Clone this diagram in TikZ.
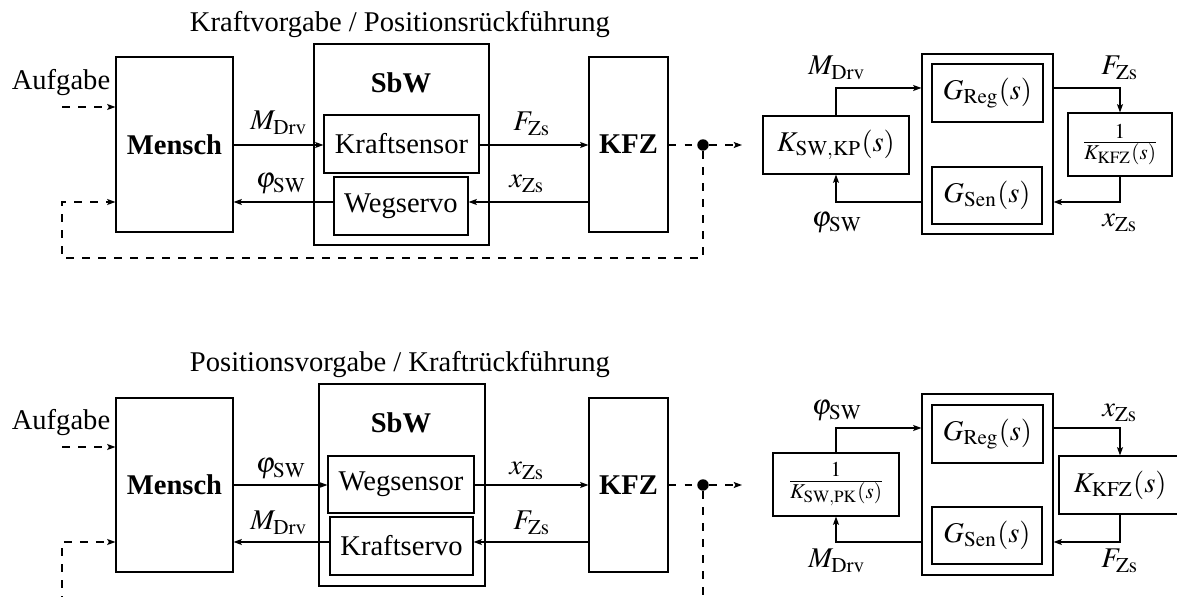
\documentclass[tikz,border=0pt]{standalone}
\usepackage{mathptmx}
\usepackage{fontspec}
\setmainfont{Liberation Serif}
\usetikzlibrary{arrows.meta}

\begin{document}
\begin{tikzpicture}[x=0.35pt,y=-0.35pt,
  >={Stealth[length=2.9pt,width=2.1pt,inset=0.6pt]},
  blk/.style 2 args={draw,inner sep=0pt,minimum width=#1*0.35pt,minimum height=#2*0.35pt},
  sig/.style={->},
  fbline/.style={dash pattern=on 2.7pt off 2.9pt},
  fb/.style={->,fbline},
  lbl/.style={anchor=base,inner sep=0pt},
  jdot/.style={circle,fill,inner sep=0pt,minimum size=4pt}]
\useasboundingbox (0,0) rectangle (1177,597);
\clip (0,0) rectangle (1177,597);

% ---------- Kraftvorgabe / Positionsrueckfuehrung ----------
\node[lbl] (t1) at (400,32) {Kraftvorgabe / Positionsrückführung};
\node[blk={117}{175}] (m1) at (174.5,144.5) {\textbf{Mensch}};
\node[blk={175}{201}] (s1) at (401.5,144.5) {};
\node[lbl] (s1t) at (401,93) {\textbf{SbW}};
\node[blk={155}{58}] (ks1) at (401.5,144) {Kraftsensor};
\node[blk={134}{58}] (ws1) at (401,206) {Wegservo};
\node[blk={79}{175}] (k1) at (628.5,144.5) {\textbf{KFZ}};
\node[jdot] (d1) at (703,145) {};
\coordinate (o1) at (742,145);
\node[lbl] (a1) at (61,90) {Aufgabe};
\coordinate (a1s) at (62,107);
\coordinate (r1a) at (62,258);
\coordinate (r1b) at (62,202);

\draw[sig] (m1.east |- 0,145) -- (ks1.west |- 0,145);
\draw[sig] (ks1.east |- 0,145) -- (k1.west |- 0,145);
\draw[sig] (k1.west |- 0,202) -- (ws1.east |- 0,202);
\draw[sig] (ws1.west |- 0,202) -- (m1.east |- 0,202);
\draw[fbline] (k1.east |- d1) -- (d1);
\draw[fb] (d1) -- (o1);
\draw[fb] (d1) -- (d1 |- r1a) -- (r1a) -- (r1b) -- (m1.west |- r1b);
\draw[fb] (a1s) -- (a1s -| m1.west);

\node[lbl] at (279,130) {$M_{\mathrm{Drv}}$};
\node[lbl] at (532,131) {$F_{\mathrm{Zs}}$};
\node[lbl] at (281,188) {$\varphi_{\mathrm{SW}}$};
\node[lbl] at (527,188) {$x_{\mathrm{Zs}}$};

% control loop, upper
\node[blk={146}{58}] (kp1) at (836,145) {$K_{\mathrm{SW,KP}}(s)$};
\node[blk={131}{180}] (c1) at (987.5,144) {};
\node[blk={111}{58}] (gr1) at (987.5,93) {$G_{\mathrm{Reg}}(s)$};
\node[blk={110}{57}] (gs1) at (987,195.5) {$G_{\mathrm{Sen}}(s)$};
\node[blk={104}{63}] (kf1) at (1120,144.5) {$\frac{1}{K_{\mathrm{KFZ}}(s)}$};

\draw[sig] (kp1.north) |- (c1.west |- 0,88);
\draw[sig] (c1.east |- 0,88) -| (kf1.north);
\draw[sig] (kf1.south) |- (c1.east |- 0,202);
\draw[sig] (c1.west |- 0,202) -| (kp1.south);

\node[lbl] at (837,75) {$M_{\mathrm{Drv}}$};
\node[lbl] at (1120,75) {$F_{\mathrm{Zs}}$};
\node[lbl] at (837,227) {$\varphi_{\mathrm{SW}}$};
\node[lbl] at (1120,227) {$x_{\mathrm{Zs}}$};

% ---------- Positionsvorgabe / Kraftrueckfuehrung ----------
\node[lbl] (t2) at (400,372) {Positionsvorgabe / Kraftrückführung};
\node[blk={117}{174}] (m2) at (174.5,485) {\textbf{Mensch}};
\node[blk={166}{202}] (s2) at (402,485) {};
\node[lbl] (s2t) at (401,433) {\textbf{SbW}};
\node[blk={146}{57}] (wsn2) at (401,484.5) {Wegsensor};
\node[blk={143}{58}] (ksv2) at (401.5,546) {Kraftservo};
\node[blk={79}{174}] (k2) at (628.5,485) {\textbf{KFZ}};
\node[jdot] (d2) at (703,485) {};
\coordinate (o2) at (742,485);
\node[lbl] (a2) at (61,430) {Aufgabe};
\coordinate (a2s) at (62,447);
\coordinate (r2a) at (62,620);
\coordinate (r2b) at (62,542);

\draw[sig] (m2.east |- 0,485) -- (wsn2.west |- 0,485);
\draw[sig] (wsn2.east |- 0,485) -- (k2.west |- 0,485);
\draw[sig] (k2.west |- 0,542) -- (ksv2.east |- 0,542);
\draw[sig] (ksv2.west |- 0,542) -- (m2.east |- 0,542);
\draw[fbline] (k2.east |- d2) -- (d2);
\draw[fb] (d2) -- (o2);
\draw[fbline] (d2) -- (d2 |- r2a);
\draw[fb] (r2a) -- (r2b) -- (m2.west |- r2b);
\draw[fb] (a2s) -- (a2s -| m2.west);

\node[lbl] at (281,473) {$\varphi_{\mathrm{SW}}$};
\node[lbl] at (527,475) {$x_{\mathrm{Zs}}$};
\node[lbl] at (279,530) {$M_{\mathrm{Drv}}$};
\node[lbl] at (532,530) {$F_{\mathrm{Zs}}$};

% control loop, lower
\node[blk={126}{63}] (pk2) at (836,484.5) {$\frac{1}{K_{\mathrm{SW,PK}}(s)}$};
\node[blk={131}{181}] (c2) at (987.5,484.5) {};
\node[blk={111}{58}] (gr2) at (987.5,434) {$G_{\mathrm{Reg}}(s)$};
\node[blk={110}{57}] (gs2) at (987,535.5) {$G_{\mathrm{Sen}}(s)$};
\node[blk={122}{58}] (kf2) at (1120,485) {$K_{\mathrm{KFZ}}(s)$};

\draw[sig] (pk2.north) |- (c2.west |- 0,428);
\draw[sig] (c2.east |- 0,428) -| (kf2.north);
\draw[sig] (kf2.south) |- (c2.east |- 0,542);
\draw[sig] (c2.west |- 0,542) -| (pk2.south);

\node[lbl] at (837,415) {$\varphi_{\mathrm{SW}}$};
\node[lbl] at (1120,417) {$x_{\mathrm{Zs}}$};
\node[lbl] at (837,568) {$M_{\mathrm{Drv}}$};
\node[lbl] at (1120,568) {$F_{\mathrm{Zs}}$};
\end{tikzpicture}
\end{document}
